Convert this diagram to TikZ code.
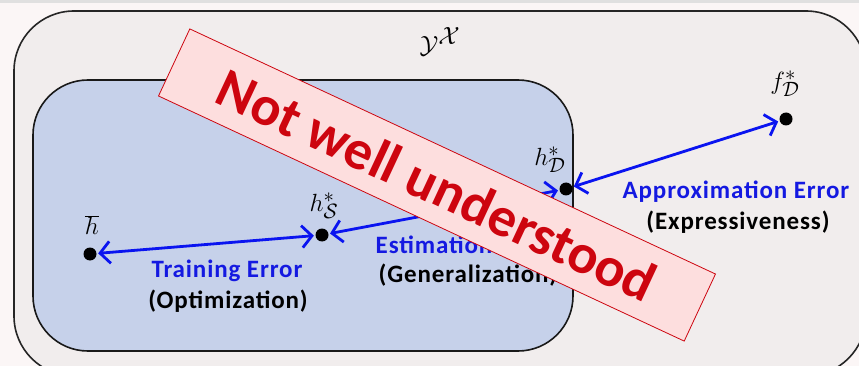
\documentclass[tikz,border=0pt]{standalone}
\usepackage{fontspec}
\newfontfamily\carlito{Carlito}
\newfontfamily\carlitowide[LetterSpace=3.5]{Carlito}
\usetikzlibrary{arrows.meta}
\definecolor{pagebg}{RGB}{251,246,246}
\definecolor{outerbg}{RGB}{241,237,237}
\definecolor{innerbg}{RGB}{198,209,234}
\definecolor{arrowblue}{RGB}{10,20,240}
\definecolor{textblue}{RGB}{20,25,225}
\definecolor{bannerfill}{RGB}{253,222,222}
\definecolor{bannerred}{RGB}{205,5,15}
\tikzset{
  dot/.style={circle,fill=black,minimum size=13pt,inner sep=0pt},
  errarrow/.style={draw=arrowblue,line width=2.8pt,{Straight Barb[length=10pt,width=22pt,line width=2.8pt]}-{Straight Barb[length=10pt,width=22pt,line width=2.8pt]},shorten <=1.5pt,shorten >=1.5pt},
  mathlab/.style={font=\fontsize{28}{28}\selectfont,inner sep=0pt},
  bluelab/.style={font=\carlitowide\bfseries\fontsize{25}{25}\selectfont,text=textblue,inner sep=0pt},
  blacklab/.style={font=\carlitowide\bfseries\fontsize{25}{25}\selectfont,text=black,inner sep=0pt},
}
\begin{document}
\begin{tikzpicture}[x=1pt,y=-1pt]
\useasboundingbox (0,0) rectangle (859,366);
\fill[pagebg] (0,0) rectangle (859,366);
\fill[black!12] (0,0) rectangle (859,3);
% outer set
\draw[line width=1.6pt,draw=black!85,fill=outerbg,rounded corners=60pt] (14,11) rectangle (866,376);
% inner set
\draw[line width=1.6pt,draw=black!90,fill=innerbg,rounded corners=55pt] (33,80) rectangle (573,351);
\node[mathlab,font=\fontsize{36}{36}\selectfont] (Y) at (440,42) {$\mathcal{Y}^{\mathcal{X}}$};
% points
\node[dot] (hbar) at (90,254) {};
\node[dot] (hS) at (322,235) {};
\node[dot] (hD) at (566,189) {};
\node[dot] (fD) at (786,119) {};
\node[mathlab] (lhbar) at (92,225) {$\overline{h}$};
\node[mathlab] (lhS) at (324,206) {$h_{\mathcal{S}}^{*}$};
\node[mathlab] (lhD) at (550,160) {$h_{\mathcal{D}}^{*}$};
\node[mathlab] (lfD) at (785,84) {$f_{\mathcal{D}}^{*}$};
% arrows
\draw[errarrow] (hbar) -- (hS);
\draw[errarrow] (hS) -- (hD);
\draw[errarrow] (hD) -- (fD);
% labels
\node[bluelab] (tr1) at (227,271) {Training Error};
\node[blacklab] (tr2) at (228,301) {(Optimization)};
\node[bluelab] (es1) at (465,245) {Estimation Error};
\node[blacklab] (es2) at (468,275) {(Generalization)};
\node[bluelab] (ap1) at (736,192) {Approximation Error};
\node[blacklab] (ap2) at (738,222) {(Expressiveness)};
% banner
\node[draw=bannerred,line width=0.8pt,fill=bannerfill,rotate=-25,minimum width=580pt,minimum height=74pt,inner sep=0pt,
  font=\carlito\bfseries\fontsize{56}{56}\selectfont,text=bannerred] (banner) at (437,185) {Not well understood};
\end{tikzpicture}
\end{document}
